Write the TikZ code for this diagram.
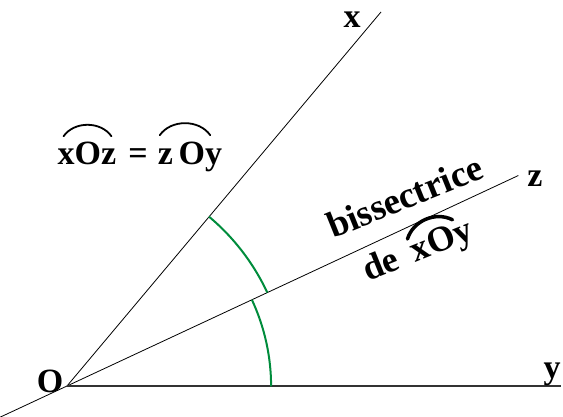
\documentclass[tikz,border=0pt]{standalone}
\usepackage{fontspec}
\setmainfont{Liberation Serif}
\usetikzlibrary{calc}
\definecolor{arcgreen}{RGB}{0,140,60}
\tikzset{
  ray/.style={line width=0.8pt, black},
  baseray/.style={line width=1.5pt, black!80},
  compass/.style={line width=2pt, arcgreen},
  lbl/.style={inner sep=0pt, font=\fontsize{34}{40}\selectfont\bfseries},
  rlbl/.style={inner sep=0pt, rotate=22, font=\fontsize{36}{42}\selectfont\bfseries},
  hat/.style={line width=1.8pt, line cap=round},
  bighat/.style={line width=3.5pt, line cap=round}
}
\begin{document}
\begin{tikzpicture}[x=1pt,y=1pt]
\useasboundingbox (0,0) rectangle (563,417);
% points
\coordinate (O) at (67,31);
\coordinate (X) at (381,405);
\coordinate (Z) at ($(O)+(25:498)$);
\coordinate (Zb) at ($(O)+(205:74)$);
\coordinate (Y) at (561,31);
% rays
\draw[ray] (O) -- (X);
\draw[ray] (Zb) -- (Z);
\draw[baseray] (O) -- (Y);
% compass arcs
\draw[compass] ($(O)+(50:221)$) arc[start angle=50, end angle=25, radius=221];
\draw[compass] ($(O)+(25:204)$) arc[start angle=25, end angle=0, radius=205];
% end labels
\node[lbl] (lx) at (352,397) {x};
\node[lbl] (lz) at (535,238) {z};
\node[lbl] (ly) at (552,43) {y};
\node[lbl] (lo) at (50,36) {O};
% equality
\node[lbl, anchor=base] (xoz) at (87,252) {xOz};
\node[lbl, anchor=base] (eq) at (138,252) {=};
\node[lbl, anchor=base] (zoy) at (190,252) {z\,Oy};
\draw[hat] ([shift={(6,6)}]xoz.north west) to[bend left=55] ([shift={(-5,6)}]xoz.north east);
\draw[hat] ([shift={(2,7)}]zoy.north west) to[bend left=55] ([shift={(-12,7)}]zoy.north east);
% bisector labels
\node[rlbl, anchor=base west, font=\fontsize{37}{42}\selectfont\bfseries] (bis) at (333,178) {bissectrice};
\node[rlbl, anchor=base west] (de) at (368,135) {de};
\node[rlbl, anchor=base west] (xoy) at ($(de.base east)+(22:15)$) {xOy};
\draw[bighat] ($(xoy.north west)!0.02!(xoy.north east)+(112:1)$) to[bend left=50] ($(xoy.north west)!0.78!(xoy.north east)+(112:2)$);
\end{tikzpicture}
\end{document}
